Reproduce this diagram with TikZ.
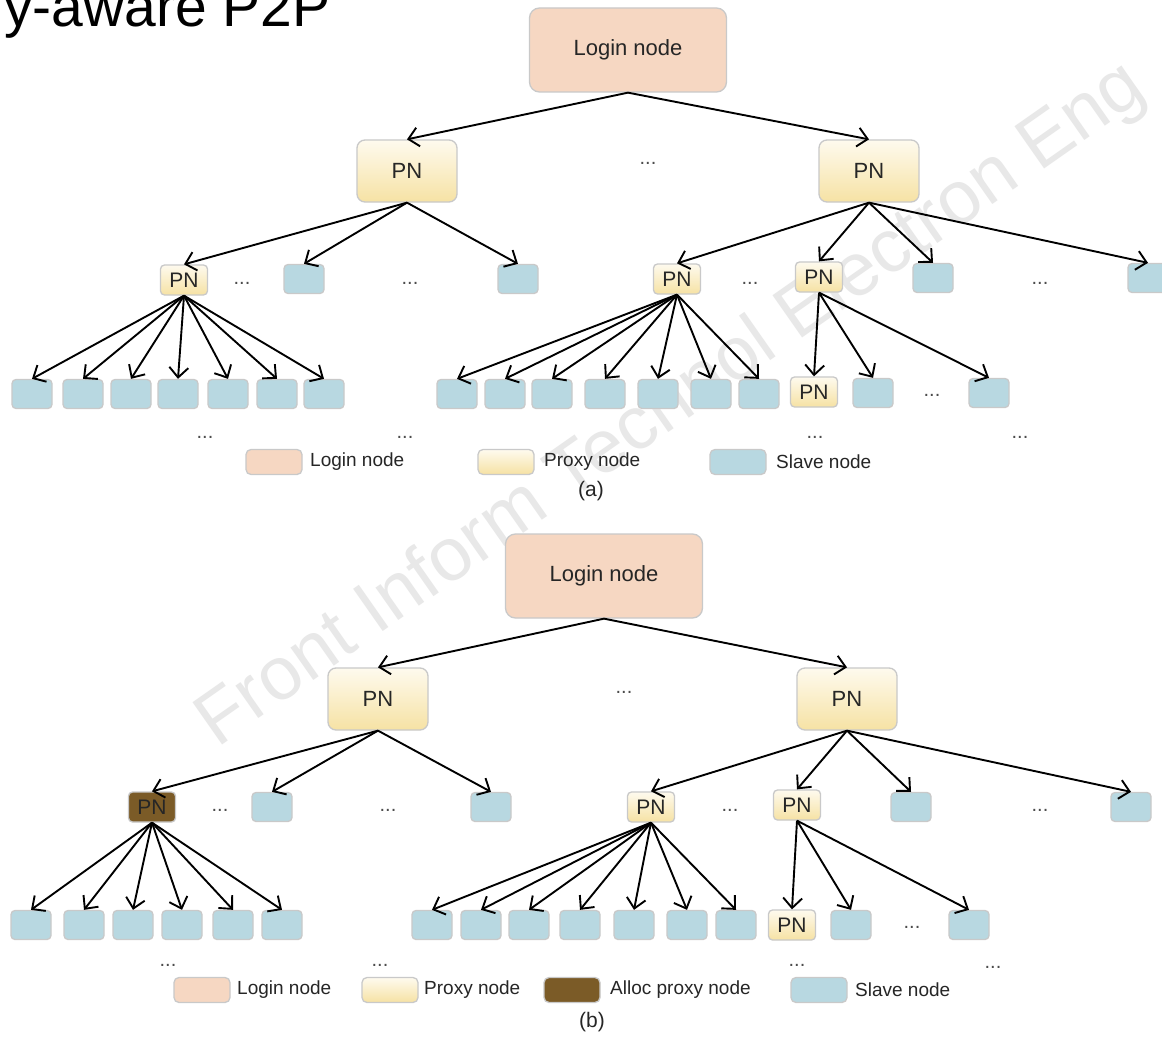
\documentclass[tikz,border=0pt]{standalone}
\usepackage{fontspec}
\setmainfont{Liberation Sans}
\usetikzlibrary{arrows.meta}

\definecolor{loginfill}{HTML}{F6D7C2}
\definecolor{proxytop}{HTML}{FEFAEE}
\definecolor{proxybot}{HTML}{F6E2A4}
\definecolor{slavefill}{HTML}{B8D8E1}
\definecolor{allocfill}{HTML}{7B5B27}
\definecolor{edgegray}{HTML}{C9C9C9}

\tikzset{
  box/.style={draw=edgegray, line width=1.3pt, inner sep=0pt, text=black!85},
  loginbox/.style={box, rounded corners=10pt, fill=loginfill, minimum width=197pt, minimum height=84pt, font=\fontsize{22}{26}\selectfont},
  pnbox/.style={box, rounded corners=8pt, top color=proxytop, bottom color=proxybot, minimum width=100pt, minimum height=62pt, font=\fontsize{22}{26}\selectfont},
  spn/.style={box, rounded corners=4pt, top color=proxytop, bottom color=proxybot, minimum width=47pt, minimum height=30pt, font=\fontsize{21}{24}\selectfont},
  apn/.style={spn, top color=allocfill, bottom color=allocfill},
  slave/.style={box, rounded corners=4pt, fill=slavefill, minimum width=40pt, minimum height=29pt},
  swatch/.style={box, rounded corners=5pt, minimum width=56pt, minimum height=25pt},
  legtext/.style={anchor=west, inner sep=0pt, text=black!85, font=\fontsize{19}{22}\selectfont},
  etc/.style={inner sep=0pt, text=black!70, font=\fontsize{20}{22}\selectfont},
  arr/.style={-{Straight Barb[length=10pt,width=19pt]}, line width=1.9pt},
}

\begin{document}
\begin{tikzpicture}[x=1pt,y=-1pt]
  \useasboundingbox (0,0) rectangle (1162,1038);
  \fill[white] (0,0) rectangle (1162,1038);
  \node[text=black!9, rotate=35, font=\fontsize{75}{80}\selectfont] (mark) at (672,406) {Front Inform Technol Electron Eng};
  \node[anchor=base east, inner sep=0pt, font=\fontsize{57}{60}\selectfont] (title) at (331,27) {y-aware P2P};

  % (a)
  \node[loginbox] (la) at (628,50) {Login node};
  \node[pnbox] (pa1) at (407,171) {PN};
  \node[pnbox] (pa2) at (869,171) {PN};
  \node[etc] (da0) at (648,163) {...};
  \draw[arr] (la.south) -- (pa1.north);
  \draw[arr] (la.south) -- (pa2.north);

  \node[spn] (qa1) at (184,280) {PN};
  \node[slave] (ra1) at (304,279) {};
  \node[slave] (ra2) at (518,279) {};
  \node[spn] (qa2) at (677,279) {PN};
  \node[spn] (qa3) at (819,277) {PN};
  \node[slave] (ra3) at (933,278) {};
  \node[slave] (ra4) at (1148,278) {};
  \foreach \n in {qa1,ra1,ra2} \draw[arr] (pa1.south) -- (\n.north);
  \foreach \n in {qa2,qa3,ra3,ra4} \draw[arr] (pa2.south) -- (\n.north);
  \node[etc] (da1) at (242,283) {...};
  \node[etc] (da2) at (410,283) {...};
  \node[etc] (da3) at (750,283) {...};
  \node[etc] (da4) at (1040,283) {...};

  \foreach \x [count=\i] in {32,83,131,178,228,277,324}{
    \node[slave] (ka\i) at (\x,394) {};
    \draw[arr] (qa1.south) -- (ka\i.north);
  }
  \foreach \x [count=\i] in {457,505,552,605,658,711,759}{
    \node[slave] (ma\i) at (\x,394) {};
    \draw[arr] (qa2.south) -- (ma\i.north);
  }
  \node[spn] (qa4) at (814,392) {PN};
  \node[slave] (ra5) at (873,393) {};
  \node[slave] (ra6) at (989,393) {};
  \foreach \n in {qa4,ra5,ra6} \draw[arr] (qa3.south) -- (\n.north);
  \node[etc] (da5) at (932,395) {...};
  \node[etc] (da6) at (205,437) {...};
  \node[etc] (da7) at (405,437) {...};
  \node[etc] (da8) at (815,437) {...};
  \node[etc] (da9) at (1020,437) {...};

  \node[swatch, fill=loginfill] (ga1) at (274,462) {};
  \node[legtext] (ta1) at (310,462) {Login node};
  \node[swatch, top color=proxytop, bottom color=proxybot] (ga2) at (506,462) {};
  \node[legtext] (ta2) at (544,462) {Proxy node};
  \node[swatch, fill=slavefill] (ga3) at (738,462) {};
  \node[legtext] (ta3) at (776,462) {Slave node};
  \node[font=\fontsize{21}{24}\selectfont, text=black!85] (capa) at (591,491) {(a)};

  % (b)
  \node[loginbox] (lb) at (604,576) {Login node};
  \node[pnbox] (pb1) at (378,699) {PN};
  \node[pnbox] (pb2) at (847,699) {PN};
  \node[etc] (db0) at (624,692) {...};
  \draw[arr] (lb.south) -- (pb1.north);
  \draw[arr] (lb.south) -- (pb2.north);

  \node[apn] (qb1) at (152,807) {PN};
  \node[slave] (rb1) at (272,807) {};
  \node[slave] (rb2) at (491,807) {};
  \node[spn] (qb2) at (651,807) {PN};
  \node[spn] (qb3) at (797,805) {PN};
  \node[slave] (rb3) at (911,807) {};
  \node[slave] (rb4) at (1131,807) {};
  \foreach \n in {qb1,rb1,rb2} \draw[arr] (pb1.south) -- (\n.north);
  \foreach \n in {qb2,qb3,rb3,rb4} \draw[arr] (pb2.south) -- (\n.north);
  \node[etc] (db1) at (220,810) {...};
  \node[etc] (db2) at (388,810) {...};
  \node[etc] (db3) at (730,810) {...};
  \node[etc] (db4) at (1040,810) {...};

  \foreach \x [count=\i] in {31,84,133,182,233,282}{
    \node[slave] (kb\i) at (\x,925) {};
    \draw[arr] (qb1.south) -- (kb\i.north);
  }
  \foreach \x [count=\i] in {432,481,529,580,634,687,736}{
    \node[slave] (mb\i) at (\x,925) {};
    \draw[arr] (qb2.south) -- (mb\i.north);
  }
  \node[spn] (qb4) at (792,925) {PN};
  \node[slave] (rb5) at (851,925) {};
  \node[slave] (rb6) at (969,925) {};
  \foreach \n in {qb4,rb5,rb6} \draw[arr] (qb3.south) -- (\n.north);
  \node[etc] (db5) at (912,927) {...};
  \node[etc] (db6) at (168,965) {...};
  \node[etc] (db7) at (380,965) {...};
  \node[etc] (db8) at (797,965) {...};
  \node[etc] (db9) at (993,967) {...};

  \node[swatch, fill=loginfill] (gb1) at (202,990) {};
  \node[legtext] (tb1) at (237,990) {Login node};
  \node[swatch, top color=proxytop, bottom color=proxybot] (gb2) at (390,990) {};
  \node[legtext] (tb2) at (424,990) {Proxy node};
  \node[swatch, fill=allocfill] (gb3) at (572,990) {};
  \node[legtext] (tb3) at (610,990) {Alloc proxy node};
  \node[swatch, fill=slavefill] (gb4) at (819,990) {};
  \node[legtext] (tb4) at (855,990) {Slave node};
  \node[font=\fontsize{21}{24}\selectfont, text=black!85] (capb) at (592,1022) {(b)};
\end{tikzpicture}
\end{document}
